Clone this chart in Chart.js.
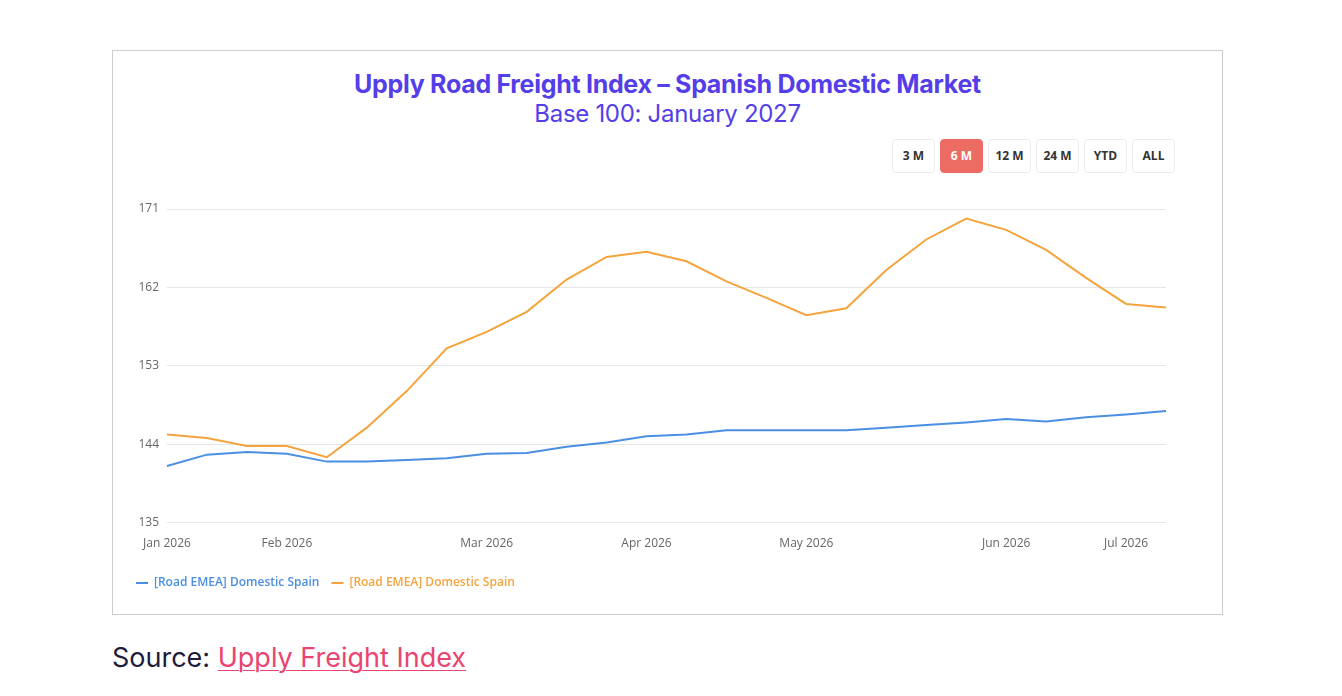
<!DOCTYPE html>
<html>
<head>
<meta charset="utf-8">
<script src="https://cdn.jsdelivr.net/npm/chart.js@4/dist/chart.umd.min.js"></script>
<style>
  html, body { margin: 0; padding: 0; background: #fff; }
  body { width: 1342px; height: 696px; position: relative; overflow: hidden; }
  .card { position: absolute; left: 112px; top: 50px; width: 1109px; height: 563px; border: 1px solid #cccccc; }
  .title { position: absolute; left: 0; width: 100%; text-align: center; color: #543ee9; font-family: Inter, sans-serif; }
  .t1 { top: 18px; font-size: 25px; font-weight: 700; letter-spacing: -0.3px; }
  .t2 { top: 48px; font-size: 24px; font-weight: 400; letter-spacing: -0.3px; }
  .btns { position: absolute; top: 88px; left: 779px; display: flex; gap: 5px; }
  .btns div { width: 41px; height: 32px; text-align: center; border: 1px solid #ececec; border-radius: 4px;
    font: 700 12px "Open Sans", sans-serif; line-height: 32px; color: #333; background: #fff; }
  .btns div.on { background: #ec6b63; border-color: #ec6b63; color: #fff; }
  #wrap { position: absolute; left: 0; top: 140px; width: 1109px; height: 408px; }
  .source { position: absolute; left: 112px; top: 641px; font: 400 27px Inter, sans-serif; color: #1d1c3b; }
  .source a { color: #ea4470; text-decoration: underline; text-underline-offset: 3px; text-decoration-thickness: 1px; }
</style>
</head>
<body>
<div class="card">
  <div class="title t1">Upply Road Freight Index – Spanish Domestic Market</div>
  <div class="title t2">Base 100: January 2027</div>
  <div class="btns">
    <div>3 M</div><div class="on">6 M</div><div>12 M</div><div>24 M</div><div>YTD</div><div>ALL</div>
  </div>
  <div id="wrap"><canvas id="myChart"></canvas></div>
</div>
<div class="source">Source: <a href="#">Upply Freight Index</a></div>

<script>
// weekly points, month label only where the original axis shows one
const xTickLabels = ['Jan 2026', '', '', 'Feb 2026', '', '', '', '', 'Mar 2026', '', '', '',
  'Apr 2026', '', '', '', 'May 2026', '', '', '', '', 'Jun 2026', '', '', 'Jul 2026', ''];

const seriesNames = ['[Road EMEA] Domestic Spain', '[Road EMEA] Domestic Spain'];

const blueValues = [141.5, 142.8, 143.1, 142.9, 142.0, 142.0, 142.2, 142.4, 142.9, 143.0, 143.7,
  144.2, 144.9, 145.1, 145.6, 145.6, 145.6, 145.6, 145.9, 146.2, 146.5, 146.9, 146.6, 147.1, 147.4, 147.8];

const orangeValues = [145.1, 144.7, 143.8, 143.8, 142.5, 145.9, 150.1, 155.0, 156.9, 159.2, 162.9,
  165.5, 166.1, 165.0, 162.7, 160.8, 158.8, 159.6, 164.0, 167.5, 169.9, 168.6, 166.3, 163.1, 160.1, 159.7];

const yTicks = [135, 144, 153, 162, 171];

const ctx = document.getElementById('myChart');

new Chart(ctx, {
  type: 'line',
  data: {
    labels: xTickLabels,
    datasets: [{
      label: seriesNames[0],
      data: blueValues,
      borderColor: '#4a8fe2',
      backgroundColor: '#4a8fe2',
      borderWidth: 2,
      pointRadius: 0,
      tension: 0
    }, {
      label: seriesNames[1],
      data: orangeValues,
      borderColor: '#f5a43d',
      backgroundColor: '#f5a43d',
      borderWidth: 2,
      pointRadius: 0,
      tension: 0
    }]
  },
  options: {
    responsive: true,
    maintainAspectRatio: false,
    animation: false,
    layout: { padding: { left: 11, right: 56, top: 18, bottom: 0 } },
    plugins: {
      tooltip: { enabled: false },
      legend: {
        position: 'bottom',
        align: 'start',
        labels: {
          usePointStyle: true,
          pointStyle: 'line',
          pointStyleWidth: 12,
          boxHeight: 10,
          padding: 12,
          font: { family: 'Open Sans', size: 12, weight: '600' },
          generateLabels: (chart) => chart.data.datasets.map((ds, i) => ({
            text: ds.label,
            fillStyle: ds.borderColor,
            strokeStyle: ds.borderColor,
            fontColor: ds.borderColor,
            lineWidth: 2,
            pointStyle: 'line',
            hidden: !chart.isDatasetVisible(i),
            datasetIndex: i
          }))
        }
      }
    },
    scales: {
      x: {
        offset: false,
        grid: { display: false, drawTicks: false },
        border: { display: false },
        ticks: {
          autoSkip: false,
          maxRotation: 0,
          padding: 14,
          color: '#666',
          font: { family: 'Open Sans', size: 12 }
        }
      },
      y: {
        min: yTicks[0],
        max: yTicks[yTicks.length - 1],
        afterBuildTicks: (scale) => { scale.ticks = yTicks.map(v => ({ value: v })); },
        afterFit: (scale) => { scale.width = 43; },
        grid: { color: '#e6e6e6', drawTicks: false },
        border: { display: false },
        ticks: {
          padding: 8,
          color: '#666',
          font: { family: 'Open Sans', size: 12 }
        }
      }
    }
  }
});
</script>
</body>
</html>
